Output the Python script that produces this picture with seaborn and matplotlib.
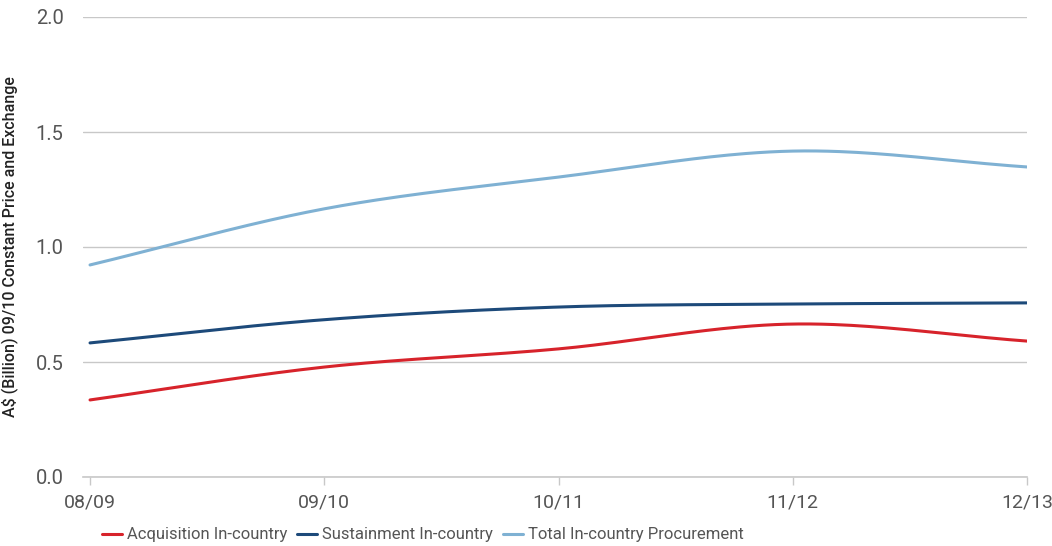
import numpy as np
import pandas as pd
import seaborn as sns
import matplotlib.pyplot as plt

# Values (A$ billion, 09/10 constant prices)
YEARS = ["08/09", "09/10", "10/11", "11/12", "12/13"]
ACQUISITION = [0.335, 0.478, 0.557, 0.665, 0.591]
SUSTAINMENT = [0.583, 0.684, 0.739, 0.752, 0.757]
TOTAL = [0.922, 1.166, 1.304, 1.417, 1.348]

SERIES = ["Acquisition In-country", "Sustainment In-country",
          "Total In-country Procurement"]
COLOURS = ["#d7232b", "#1d4a7a", "#7fb1d3"]


def smooth(x, y, n=40):
    """Cubic Hermite curve through the points, only for drawing the line."""
    x = np.asarray(x, float)
    y = np.asarray(y, float)
    m = np.gradient(y, x)
    xs, ys = [], []
    for i in range(len(x) - 1):
        h = x[i + 1] - x[i]
        t = np.linspace(0, 1, n, endpoint=False)
        h00 = 2 * t**3 - 3 * t**2 + 1
        h10 = t**3 - 2 * t**2 + t
        h01 = -2 * t**3 + 3 * t**2
        h11 = t**3 - t**2
        xs.append(x[i] + t * h)
        ys.append(h00 * y[i] + h10 * h * m[i] + h01 * y[i + 1] + h11 * h * m[i + 1])
    xs.append([x[-1]])
    ys.append([y[-1]])
    return np.concatenate(xs), np.concatenate(ys)


sns.set_theme(style="white")
plt.rcParams["font.family"] = ["Roboto", "DejaVu Sans"]

rows = []
for name, vals in zip(SERIES, [ACQUISITION, SUSTAINMENT, TOTAL]):
    xs, ys = smooth(range(len(YEARS)), vals)
    rows.append(pd.DataFrame({"x": xs, "value": ys, "series": name}))
df = pd.concat(rows, ignore_index=True)

fig = plt.figure(figsize=(10.52, 5.46), dpi=100)
ax = fig.add_axes([83 / 1052, 1 - 477 / 546, (1027 - 83) / 1052, (477 - 17) / 546])

sns.lineplot(data=df, x="x", y="value", hue="series", hue_order=SERIES,
             palette=COLOURS, linewidth=2.2, ax=ax, sort=False)

ax.set_xlim(-0.03, 4)
ax.set_ylim(0, 2.0)
ax.set_yticks([0, 0.5, 1.0, 1.5, 2.0])
ax.set_yticklabels(["0.0", "0.5", "1.0", "1.5", "2.0"])
ax.set_xticks(range(len(YEARS)))
ax.set_xticklabels(YEARS)
ax.yaxis.grid(True, color="#c8c8c8", linewidth=1)
ax.set_axisbelow(True)
for s in ["top", "right", "left"]:
    ax.spines[s].set_visible(False)
ax.spines["bottom"].set_color("#c8c8c8")
ax.spines["bottom"].set_linewidth(1.2)
ax.tick_params(axis="y", length=0, pad=14, labelsize=14.5, labelcolor="#555555")
ax.tick_params(axis="x", length=6, width=1, color="#c8c8c8", pad=6,
               labelsize=14, labelcolor="#555555", bottom=True)
ax.set_xlabel("")
ax.set_ylabel("A$ (Billion) 09/10 Constant Price and Exchange",
              fontsize=11.5, fontweight="medium", color="#222222", labelpad=12)

ax.legend(loc="center", bbox_to_anchor=(0.36, -0.126), ncol=3,
          frameon=False, fontsize=12, handlelength=1.2, columnspacing=0.6,
          handletextpad=0.3, labelcolor="#555555")

fig.savefig("out.png", dpi=100)
